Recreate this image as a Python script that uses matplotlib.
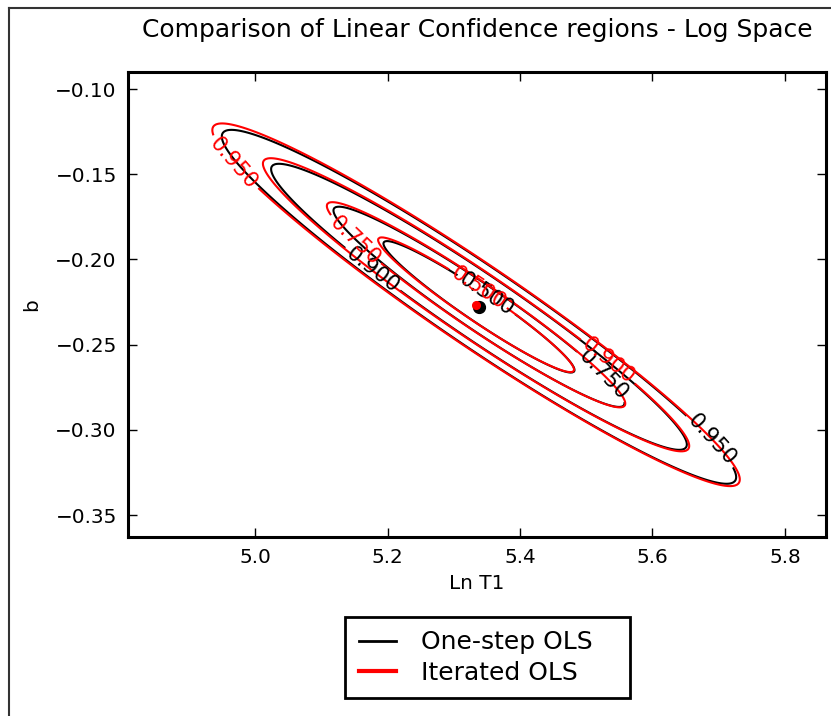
import numpy as np
import matplotlib
matplotlib.use("Agg")
import matplotlib.pyplot as plt
from matplotlib.lines import Line2D

# confidence levels drawn for each fit
levels = [0.5, 0.75, 0.9, 0.95]

# parameter estimates (Ln T1, b)
center_one = (5.338, -0.2278)
center_iter = (5.3336, -0.2266)

# principal axes of the parameter covariance: (sigma, direction)
sigma_major_one = 0.1179
sigma_minor_one = 0.00803
sigma_major_iter = 0.1209
sigma_minor_iter = 0.00815
major_dir = (-0.968, 0.2504)

# residual degrees of freedom for the F statistic
dof = 5

# label anchor points per level
label_pos_one = {0.9: (5.177, -0.206), 0.5: (5.352, -0.219),
                 0.75: (5.521, -0.2696), 0.95: (5.694, -0.3042)}
label_pos_iter = {0.95: (4.965, -0.1446), 0.75: (5.151, -0.1886),
                  0.5: (5.337, -0.2168), 0.9: (5.528, -0.262)}

xlim = (4.808, 5.862)
ylim = (-0.3629, -0.0900)


def conf_field(X, Y, c, s1, s2):
    u = np.array(major_dir) / np.hypot(*major_dir)
    v = np.array([u[1], -u[0]])
    cov = s1**2 * np.outer(u, u) + s2**2 * np.outer(v, v)
    inv = np.linalg.inv(cov)
    dx = X - c[0]
    dy = Y - c[1]
    d2 = inv[0, 0]*dx*dx + 2*inv[0, 1]*dx*dy + inv[1, 1]*dy*dy
    F = d2 / 2.0
    # CDF of F(2, dof)
    return 1.0 - (1.0 + 2.0*F/dof) ** (-dof/2.0)


xs = np.linspace(xlim[0], xlim[1], 400)
ys = np.linspace(ylim[0], ylim[1], 400)
X, Y = np.meshgrid(xs, ys)

Z1 = conf_field(X, Y, center_one, sigma_major_one, sigma_minor_one)
Z2 = conf_field(X, Y, center_iter, sigma_major_iter, sigma_minor_iter)

fig = plt.figure(figsize=(8.31, 7.16), dpi=100)
ax = fig.add_axes([0.154, 0.25, 0.840, 0.6494])


def draw_set(Z, color, label_pos):
    for lev in levels:
        cs = ax.contour(X, Y, Z, levels=[lev], colors=color, linewidths=1.5)
        ax.clabel(cs, manual=[label_pos[lev]], inline=True, fontsize=15.5,
                  fmt='%.3f', inline_spacing=4)


draw_set(Z1, 'black', label_pos_one)
draw_set(Z2, 'red', label_pos_iter)

ax.plot(center_one[0], center_one[1], 'o', color='black', markersize=8.5)
ax.plot(center_iter[0], center_iter[1], 'o', color='red', markersize=5.5)

ax.set_xlim(*xlim)
ax.set_ylim(*ylim)
ax.set_xticks([5.0, 5.2, 5.4, 5.6, 5.8])
ax.set_yticks([-0.10, -0.15, -0.20, -0.25, -0.30, -0.35])
ax.tick_params(direction='in', length=6.5, width=1, top=True, right=True,
               labelsize=14.4, pad=8)
for sp in ax.spines.values():
    sp.set_linewidth(2.2)

ax.set_xlabel('Ln T1', fontsize=14.4, labelpad=5)
ax.set_ylabel('b', fontsize=14.4, labelpad=10)
ax.set_title('Comparison of Linear Confidence regions - Log Space',
             fontsize=18, pad=25)

handles = [Line2D([], [], color='black', lw=2),
           Line2D([], [], color='red', lw=3)]
leg = fig.legend(handles, ['One-step OLS', 'Iterated OLS'], loc='center',
                 bbox_to_anchor=(345/831, 1 - 697/716, 285/831, 79/716),
                 mode='expand', fontsize=18,
                 fancybox=False, framealpha=1, edgecolor='black',
                 handlelength=1.5, handletextpad=1.0, borderpad=0.55,
                 labelspacing=0.25, borderaxespad=0)
leg.get_frame().set_linewidth(2)

# outer frame lines
fig.add_artist(Line2D([9/831, 9/831], [0, 1 - 8/716], color='#333333',
                      lw=1.5, transform=fig.transFigure))
fig.add_artist(Line2D([9/831, 1], [1 - 8/716, 1 - 8/716], color='#333333',
                      lw=1.5, transform=fig.transFigure))

fig.savefig('out.png', dpi=100)
